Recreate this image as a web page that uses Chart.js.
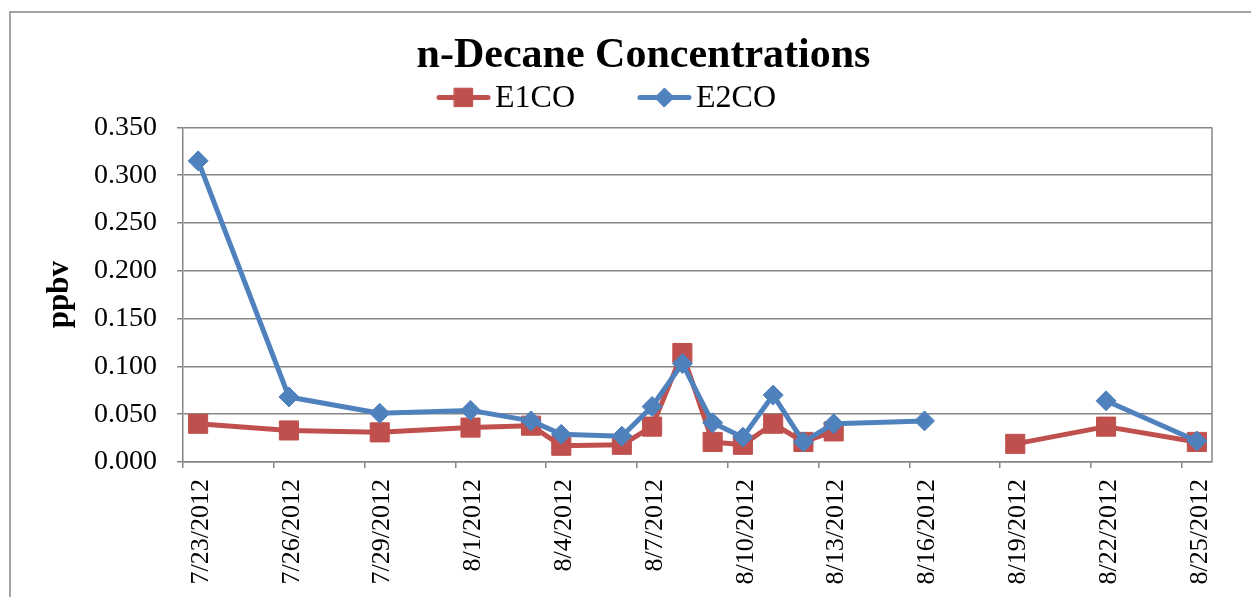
<!DOCTYPE html>
<html>
<head>
<meta charset="utf-8">
<script src="https://cdn.jsdelivr.net/npm/chart.js@4.4.0/dist/chart.umd.min.js"></script>
<style>
html,body{margin:0;padding:0;background:#fff;}
#wrap{width:1251px;height:597px;position:relative;}
</style>
</head>
<body>
<div id="wrap"><canvas id="c" width="1251" height="597"></canvas></div>
<script>
// ---- data ----
const sampleDates = ['2012-07-23','2012-07-26','2012-07-29','2012-08-01','2012-08-03','2012-08-04',
  '2012-08-06','2012-08-07','2012-08-08','2012-08-09','2012-08-10','2012-08-11','2012-08-12',
  '2012-08-13','2012-08-16','2012-08-19','2012-08-22','2012-08-25'];
const e1co = [0.040,0.033,0.031,0.036,0.038,0.017,0.018,0.037,0.114,0.021,0.018,0.040,0.021,0.032,null,0.019,0.037,0.021];
const e2co = [0.315,0.068,0.051,0.054,0.043,0.029,0.027,0.058,0.103,0.041,0.026,0.070,0.021,0.040,0.043,null,0.064,0.022];
const tickDates = ['2012-07-23','2012-07-26','2012-07-29','2012-08-01','2012-08-04','2012-08-07',
  '2012-08-10','2012-08-13','2012-08-16','2012-08-19','2012-08-22','2012-08-25'];
const yTicks = [0,0.05,0.10,0.15,0.20,0.25,0.30,0.35];
const seriesNames = ['E1CO','E2CO'];
const chartTitle = 'n-Decane Concentrations';
const yTitle = 'ppbv';

// ---- helpers ----
const DAY0 = Date.UTC(2012, 6, 23);
function toDay(s){ const p = s.split('-').map(Number); return Math.round((Date.UTC(p[0],p[1]-1,p[2]) - DAY0)/86400000); }
function fmt(s){ const p = s.split('-').map(Number); return p[1] + '/' + p[2] + '/' + p[0]; }
const tickDays = tickDates.map(toDay);
const tickLabels = tickDates.map(fmt);
const e1Points = sampleDates.map((s,i)=>({x: toDay(s), y: e1co[i]}));
const e2Points = sampleDates.map((s,i)=>({x: toDay(s), y: e2co[i]}));

const SERIF = "'Liberation Serif', 'Times New Roman', serif";
const GRAY = '#868686';
const RED = '#C0504D';
const BLUE = '#4F81BD';

const framePlugin = {
  id: 'frame',
  afterLayout(chart){
    const t = chart.titleBlock;
    if (t) {
      const w = t.right - t.left;
      const center = (chart.chartArea.left + chart.chartArea.right)/2 - 54;
      t.left = center - w/2; t.right = t.left + w;
    }
  },
  beforeDraw(chart){
    const ctx = chart.ctx;
    ctx.save();
    ctx.strokeStyle = GRAY; ctx.lineWidth = 1.5;
    ctx.strokeRect(10, 12, chart.width + 50, chart.height + 50);
    ctx.restore();
  },
  beforeDatasetsDraw(chart){
    const {ctx, chartArea:a} = chart;
    ctx.save();
    ctx.strokeStyle = GRAY; ctx.lineWidth = 1.5;
    ctx.beginPath(); ctx.moveTo(a.right, a.top); ctx.lineTo(a.right, a.bottom); ctx.stroke();
    ctx.restore();
  },
  afterDraw(chart){
    // legend: line + marker + label
    const {ctx, chartArea:a} = chart;
    ctx.save();
    ctx.font = "32px " + SERIF;
    ctx.textBaseline = 'middle';
    ctx.textAlign = 'left';
    let x = a.left + 254;
    const y = a.top - 30;
    chart.data.datasets.forEach((ds) => {
      ctx.strokeStyle = ds.borderColor; ctx.lineWidth = 5; ctx.lineCap = 'round';
      ctx.beginPath(); ctx.moveTo(x + 2, y); ctx.lineTo(x + 51, y); ctx.stroke();
      ctx.fillStyle = ds.pointBackgroundColor; ctx.strokeStyle = ds.pointBorderColor; ctx.lineWidth = 1;
      Chart.helpers.drawPoint(ctx, {pointStyle: ds.pointStyle, radius: ds.pointStyle === 'rect' ? 13 : 9.5, rotation: 0, borderWidth: 1}, x + 26.5, y);
      ctx.fillStyle = '#000';
      ctx.fillText(ds.label, x + 58, y + 1);
      x += 58 + ctx.measureText(ds.label).width + 63;
    });
    ctx.restore();
  }
};

new Chart(document.getElementById('c'), {
  type: 'line',
  data: {
    datasets: [
      {label: seriesNames[0], data: e1Points, borderColor: RED, backgroundColor: RED, borderWidth: 5,
       borderJoinStyle: 'round', borderCapStyle: 'round',
       pointStyle: 'rect', pointRadius: 13.5, pointBorderWidth: 1, pointBackgroundColor: RED, pointBorderColor: RED,
       pointHoverRadius: 13.5, order: 1},
      {label: seriesNames[1], data: e2Points, borderColor: BLUE, backgroundColor: BLUE, borderWidth: 5,
       borderJoinStyle: 'round', borderCapStyle: 'round',
       pointStyle: 'rectRot', pointRadius: 10, pointBorderWidth: 1, pointBackgroundColor: BLUE, pointBorderColor: BLUE,
       pointHoverRadius: 10, order: 0}
    ]
  },
  options: {
    responsive: false,
    animation: false,
    events: [],
    layout: {padding: {left: 20, right: 39, top: 12, bottom: 0}},
    plugins: {
      legend: {display: false},
      tooltip: {enabled: false},
      title: {display: true, text: chartTitle, color: '#000',
        font: {family: SERIF, size: 42, weight: 'bold', lineHeight: 1.2},
        padding: {top: 19, bottom: 46}}
    },
    scales: {
      x: {
        type: 'linear',
        min: tickDays[0] - 0.5,
        max: tickDays[tickDays.length-1] + 0.5,
        afterBuildTicks: s => { s.ticks = tickDays.map(d => ({value: d - 0.5})); },
        afterFit: s => { s.height = 135; },
        ticks: {autoSkip: false, minRotation: 90, maxRotation: 90, labelOffset: 18, padding: 11,
          color: '#000', font: {family: SERIF, size: 26},
          callback: (v, i) => tickLabels[i]},
        grid: {drawOnChartArea: false, drawTicks: true, tickLength: 6, color: GRAY, lineWidth: 1.5},
        border: {color: GRAY, width: 1.5}
      },
      y: {
        min: yTicks[0],
        max: yTicks[yTicks.length-1],
        afterBuildTicks: s => { s.ticks = yTicks.map(v => ({value: v})); },
        afterFit: s => { s.width = 163; },
        ticks: {callback: v => Number(v).toFixed(3), color: '#000', font: {family: SERIF, size: 28}, padding: 20},
        grid: {color: GRAY, lineWidth: 1.5, tickLength: 6, drawTicks: true},
        border: {color: GRAY, width: 1.5},
        title: {display: true, text: yTitle, color: '#000',
          font: {family: SERIF, size: 31, weight: 'bold', lineHeight: 1.2},
          padding: {top: 21, bottom: 0}}
      }
    }
  },
  plugins: [framePlugin]
});
</script>
</body>
</html>
